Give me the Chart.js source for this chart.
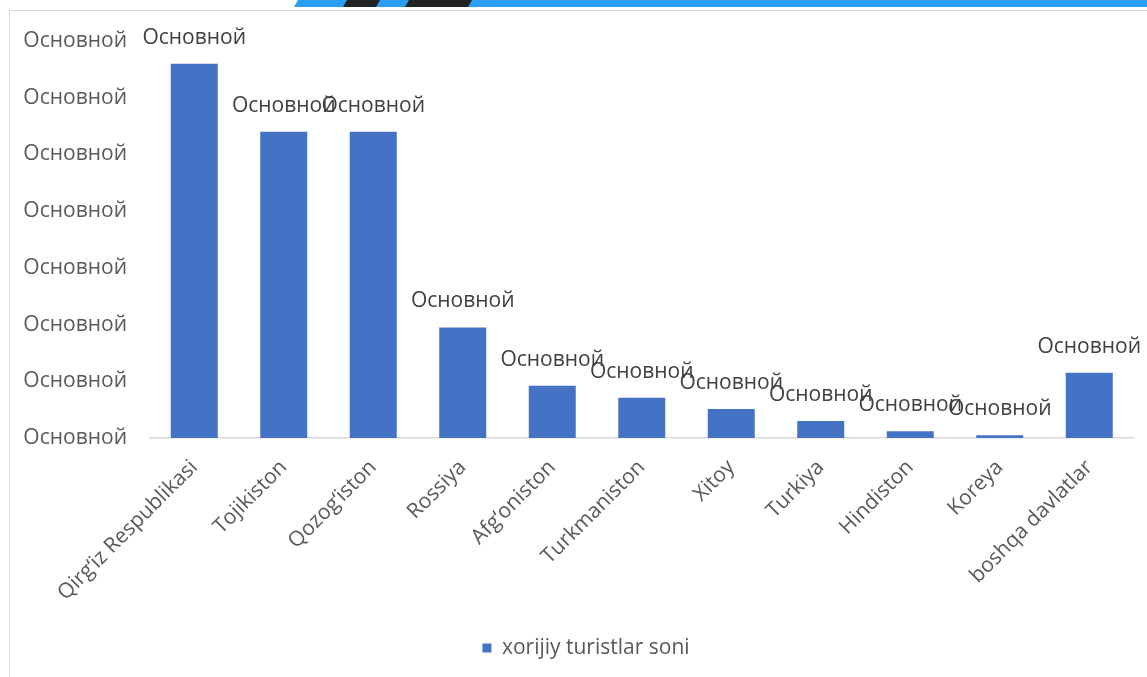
<!DOCTYPE html>
<html>
<head>
<meta charset="utf-8">
<script src="https://cdn.jsdelivr.net/npm/chart.js@4.4.1/dist/chart.umd.min.js"></script>
<style>
  html, body { margin: 0; padding: 0; width: 1147px; height: 677px; overflow: hidden; background: #fff; }
  #banner { position: absolute; left: 0; top: 0; width: 1147px; height: 7px; }
  #blue { position: absolute; left: 0; top: 0; width: 1147px; height: 7px; background: #2A9DF4;
          clip-path: polygon(298px 0, 1147px 0, 1147px 7px, 294px 7px); }
  .stripe { position: absolute; top: 0; height: 7px; background: #222; }
  #frame { position: absolute; left: 9px; top: 10px; width: 1166px; height: 667px;
           border-left: 1.5px solid #d9d9d9; border-top: 1.5px solid #d9d9d9; box-sizing: border-box; }
  #wrap { position: absolute; left: 9px; top: 10px; width: 1166px; height: 667px; }
</style>
</head>
<body>
<div id="banner">
  <div id="blue"></div>
  <div class="stripe" style="left:0;width:1147px;clip-path: polygon(347px 0, 380px 0, 376px 7px, 343px 7px);"></div>
  <div class="stripe" style="left:0;width:1147px;clip-path: polygon(409px 0, 472px 0, 468px 7px, 405px 7px);"></div>
</div>
<div id="frame"></div>
<div id="wrap"><canvas id="c"></canvas></div>
<script>
// ---- data ----
const categories = ["Qirg\u2018iz Respublikasi", "Tojikiston", "Qozog\u2018iston", "Rossiya", "Afg\u2018oniston",
                    "Turkmaniston", "Xitoy", "Turkiya", "Hindiston", "Koreya", "boshqa davlatlar"];
const touristValues = [660000, 540000, 540000, 195000, 92000, 71000, 51000, 30000, 12000, 5000, 115000];
const seriesName = "xorijiy turistlar soni";
const yTickText = "Основной";      // broken number format shown on every y tick
const dataLabelText = "Основной";  // broken number format shown on every data label
const yMin = 0, yMax = 700000, yStep = 100000;

const FONT = "'Open Sans', sans-serif";
const FS = 21;
Chart.defaults.font.family = FONT;
Chart.defaults.font.size = FS;
Chart.defaults.color = '#595959';

const dataLabelPlugin = {
  id: 'dataLabels',
  afterDatasetsDraw(chart) {
    const ctx = chart.ctx;
    const meta = chart.getDatasetMeta(0);
    ctx.save();
    ctx.font = FS + "px " + FONT;
    ctx.fillStyle = '#404040';
    ctx.textAlign = 'center';
    ctx.textBaseline = 'middle';
    meta.data.forEach((bar) => {
      ctx.fillText(dataLabelText, bar.x, bar.y - 26);
    });
    ctx.restore();
  }
};

// legend in the reference is centred on the whole chart frame, not on the plot box
const legendShift = {
  id: 'legendShift',
  afterLayout(chart) {
    if (chart.legend) { chart.legend.left += 14.5; chart.legend.right += 14.5; }
  }
};

new Chart(document.getElementById('c'), {
  type: 'bar',
  data: {
    labels: categories,
    datasets: [{
      label: seriesName,
      data: touristValues,
      backgroundColor: '#4472C4',
      borderWidth: 0,
      categoryPercentage: 1,
      barPercentage: 0.525
    }]
  },
  options: {
    responsive: true,
    maintainAspectRatio: false,
    animation: false,
    layout: { padding: { left: 0, right: 41, top: 31, bottom: 8.5 } },
    plugins: {
      legend: {
        position: 'bottom',
        labels: { boxWidth: 9, boxHeight: 9, padding: 10, color: '#595959', font: { size: FS } }
      },
      tooltip: { enabled: false }
    },
    scales: {
      x: {
        grid: { display: false },
        border: { display: true, color: '#d9d9d9', width: 1.5 },
        ticks: { maxRotation: 45, minRotation: 45, autoSkip: false, color: '#595959', padding: 9 },
        afterFit(s) { s.height = 189.5; }
      },
      y: {
        min: yMin, max: yMax,
        grid: { display: false },
        border: { display: false },
        ticks: { stepSize: yStep, padding: 14.5, color: '#595959', callback: () => yTickText },
        afterFit(s) { s.width = 140.5; }
      }
    }
  },
  plugins: [dataLabelPlugin, legendShift]
});
</script>
</body>
</html>
